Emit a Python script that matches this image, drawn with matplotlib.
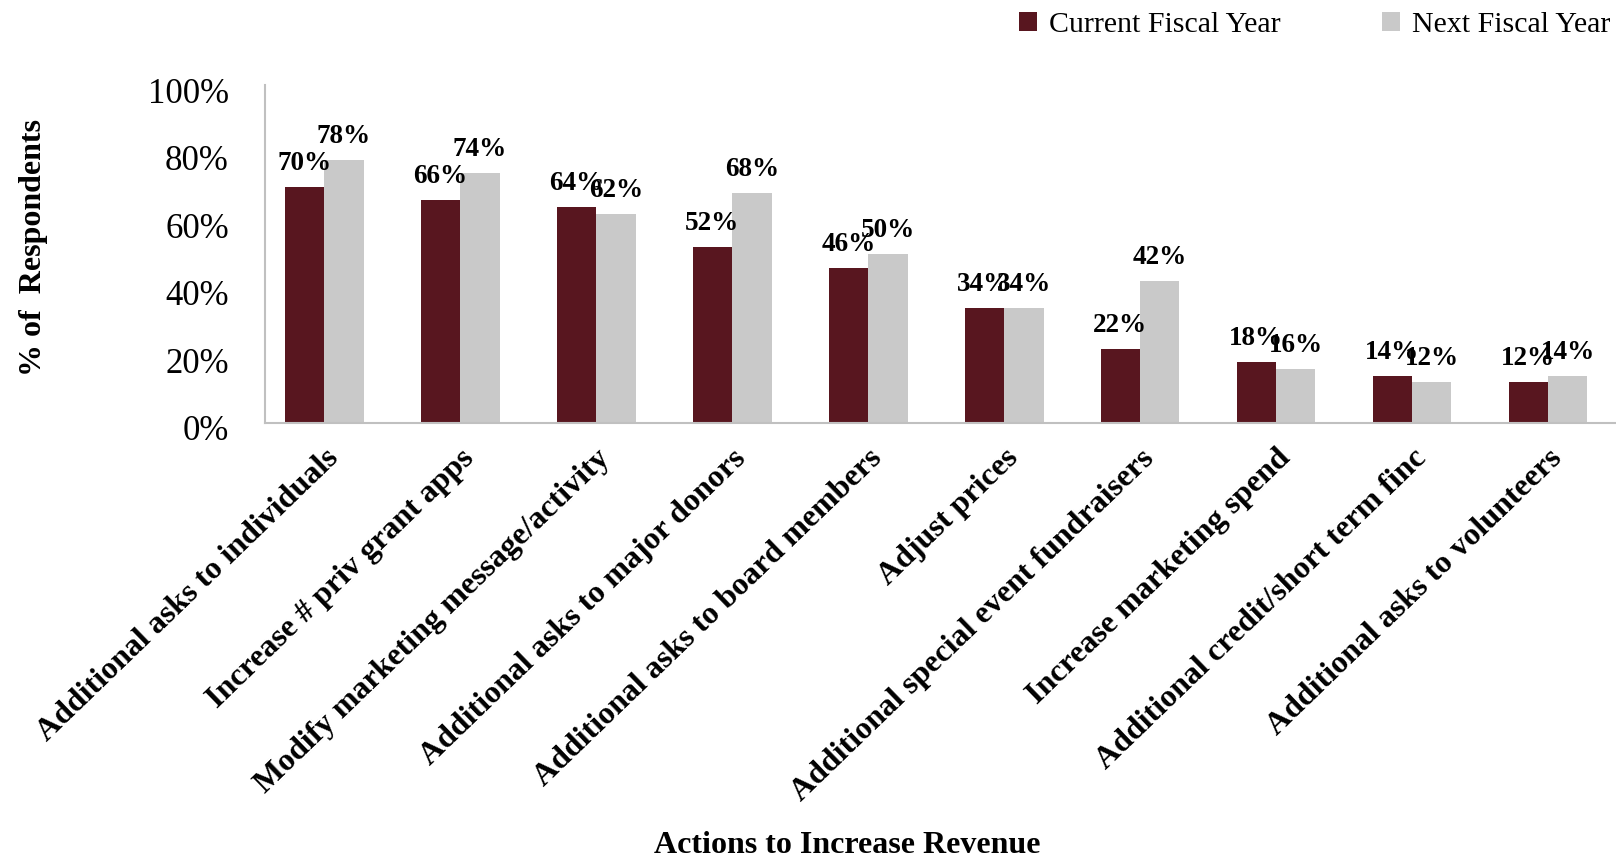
import numpy as np
import matplotlib
matplotlib.use('Agg')
import matplotlib.pyplot as plt
from matplotlib.transforms import ScaledTranslation

# data
actions = ['Additional asks to individuals', 'Increase # priv grant apps',
           'Modify marketing message/activity', 'Additional asks to major donors',
           'Additional asks to board members', 'Adjust prices',
           'Additional special event fundraisers', 'Increase marketing spend',
           'Additional credit/short term finc', 'Additional asks to volunteers']
current_fy = [70, 66, 64, 52, 46, 34, 22, 18, 14, 12]
next_fy = [78, 74, 62, 68, 50, 34, 42, 16, 12, 14]
y_ticks = [0, 20, 40, 60, 80, 100]

plt.rcParams['font.family'] = ['Liberation Serif', 'DejaVu Serif']

maroon = '#58161F'
grey = '#C9C9C9'

fig = plt.figure(figsize=(16.16, 8.63), dpi=100)
ax = fig.add_axes([0.164, 0.51, 0.836, 0.391])

x = np.arange(len(actions))
w = 0.29
b1 = ax.bar(x - w / 2, current_fy, w, color=maroon, label='Current Fiscal Year')
b2 = ax.bar(x + w / 2, next_fy, w, color=grey, label='Next Fiscal Year')

# value labels above the bars
for bars, vals in [(b1, current_fy), (b2, next_fy)]:
    for rect, v in zip(bars, vals):
        ax.annotate('%d%%' % v, (rect.get_x() + rect.get_width() / 2, v),
                    xytext=(0, 8), textcoords='offset points',
                    ha='center', va='bottom', fontsize=19.5, fontweight='bold')

ax.set_xlim(-0.435, 9.5)
ax.set_ylim(0, 100)
ax.set_yticks(y_ticks)
ax.set_yticklabels(['%d%%' % t for t in y_ticks], fontsize=25)
ax.tick_params(axis='y', length=0, pad=26)
ax.tick_params(axis='x', length=0, pad=15)
ax.set_xticks(x)
ax.set_xticklabels(actions, rotation=44, ha='right', va='top',
                   rotation_mode='anchor', fontsize=23, fontweight='bold')
# y tick labels sit a little below their gridline in the original
shift = ScaledTranslation(0, -5 / 100, fig.dpi_scale_trans)
for lab in ax.get_yticklabels():
    lab.set_transform(lab.get_transform() + shift)

for s in ['top', 'right']:
    ax.spines[s].set_visible(False)
for s in ['left', 'bottom']:
    ax.spines[s].set_color('#C0C0C0')
    ax.spines[s].set_linewidth(1.5)

ax.set_ylabel('% of  Respondents', fontsize=23, fontweight='bold')
ax.yaxis.set_label_coords(-0.161, 0.52)
fig.text(0.524, 0.02, 'Actions to Increase Revenue', ha='center', va='center',
         fontsize=23, fontweight='bold')

fig.legend(handles=[b1, b2], loc='upper right', bbox_to_anchor=(1.013, 1.017),
           ncol=2, frameon=False, fontsize=21.5, handlelength=0.6,
           handleheight=0.6, handletextpad=0.4, columnspacing=3.4)

fig.savefig('out.png', dpi=100)
